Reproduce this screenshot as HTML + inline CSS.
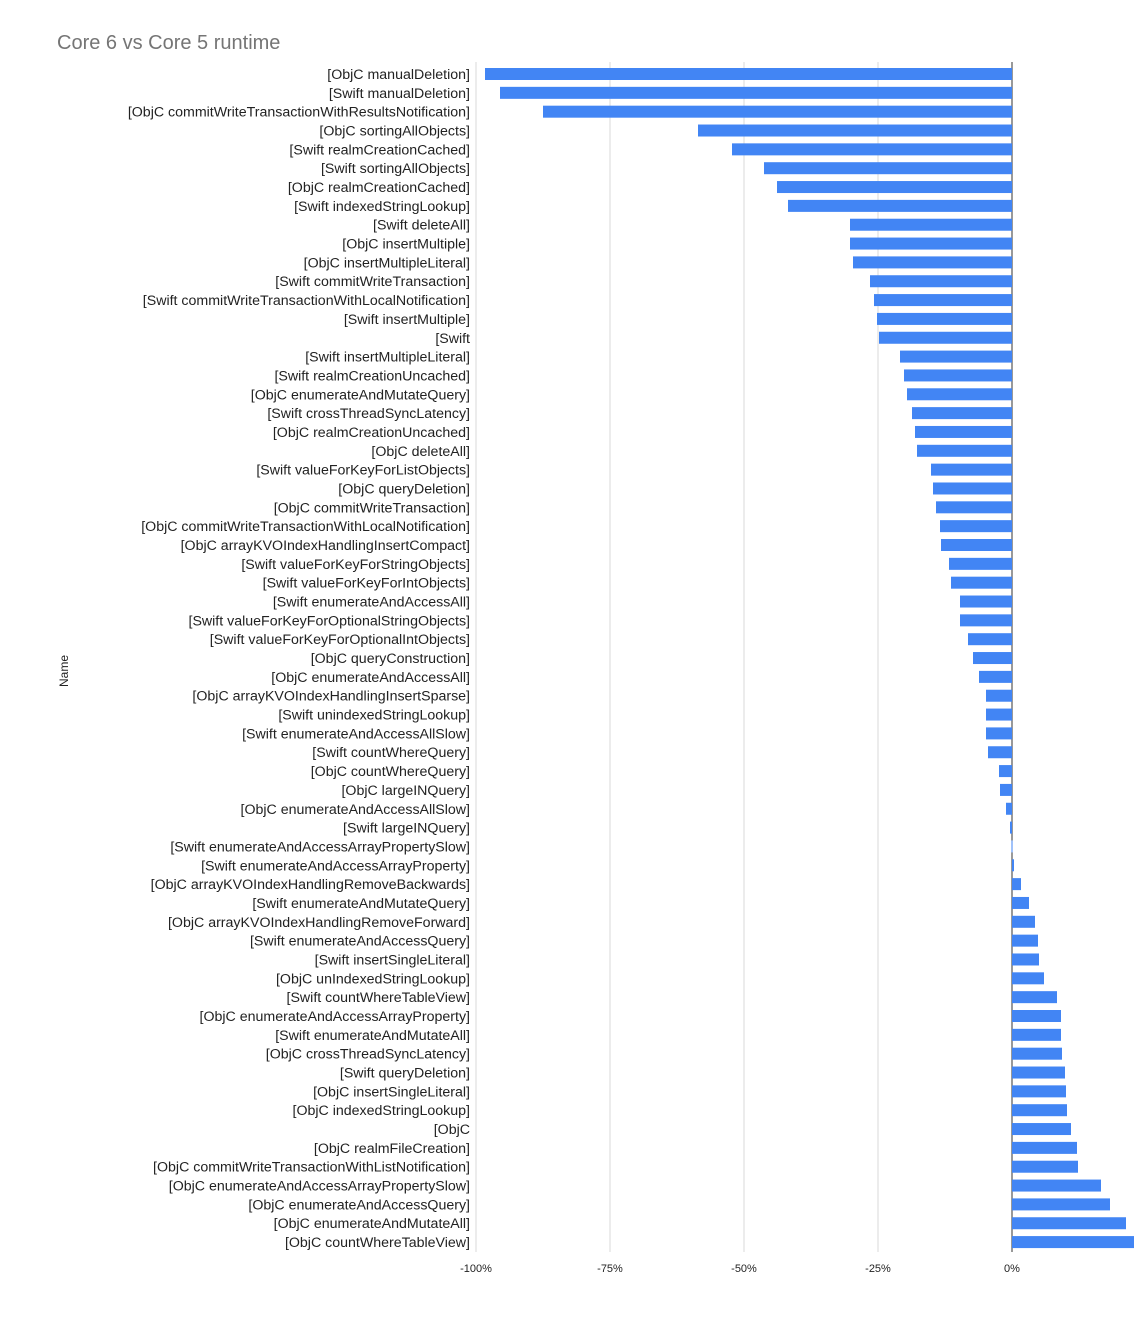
<!DOCTYPE html>
<html><head><meta charset="utf-8"><style>
html,body{margin:0;padding:0;background:#fff;}
svg{display:block;font-family:"Liberation Sans",Arial,sans-serif;}
</style></head><body>
<svg id="c" width="1147" height="1339" xmlns="http://www.w3.org/2000/svg">
<rect width="1147" height="1339" fill="#fff"/>
<text x="57" y="49" font-size="20" fill="#757575">Core 6 vs Core 5 runtime</text>
<text transform="translate(68,671) rotate(-90)" font-size="12" fill="#222" text-anchor="middle">Name</text>
<g id="grid"></g><g id="bars"></g><g id="labels"></g>
</svg>
<script>
var names=["[ObjC manualDeletion]","[Swift manualDeletion]","[ObjC commitWriteTransactionWithResultsNotification]","[ObjC sortingAllObjects]","[Swift realmCreationCached]","[Swift sortingAllObjects]","[ObjC realmCreationCached]","[Swift indexedStringLookup]","[Swift deleteAll]","[ObjC insertMultiple]","[ObjC insertMultipleLiteral]","[Swift commitWriteTransaction]","[Swift commitWriteTransactionWithLocalNotification]","[Swift insertMultiple]","[Swift","[Swift insertMultipleLiteral]","[Swift realmCreationUncached]","[ObjC enumerateAndMutateQuery]","[Swift crossThreadSyncLatency]","[ObjC realmCreationUncached]","[ObjC deleteAll]","[Swift valueForKeyForListObjects]","[ObjC queryDeletion]","[ObjC commitWriteTransaction]","[ObjC commitWriteTransactionWithLocalNotification]","[ObjC arrayKVOIndexHandlingInsertCompact]","[Swift valueForKeyForStringObjects]","[Swift valueForKeyForIntObjects]","[Swift enumerateAndAccessAll]","[Swift valueForKeyForOptionalStringObjects]","[Swift valueForKeyForOptionalIntObjects]","[ObjC queryConstruction]","[ObjC enumerateAndAccessAll]","[ObjC arrayKVOIndexHandlingInsertSparse]","[Swift unindexedStringLookup]","[Swift enumerateAndAccessAllSlow]","[Swift countWhereQuery]","[ObjC countWhereQuery]","[ObjC largeINQuery]","[ObjC enumerateAndAccessAllSlow]","[Swift largeINQuery]","[Swift enumerateAndAccessArrayPropertySlow]","[Swift enumerateAndAccessArrayProperty]","[ObjC arrayKVOIndexHandlingRemoveBackwards]","[Swift enumerateAndMutateQuery]","[ObjC arrayKVOIndexHandlingRemoveForward]","[Swift enumerateAndAccessQuery]","[Swift insertSingleLiteral]","[ObjC unIndexedStringLookup]","[Swift countWhereTableView]","[ObjC enumerateAndAccessArrayProperty]","[Swift enumerateAndMutateAll]","[ObjC crossThreadSyncLatency]","[Swift queryDeletion]","[ObjC insertSingleLiteral]","[ObjC indexedStringLookup]","[ObjC","[ObjC realmFileCreation]","[ObjC commitWriteTransactionWithListNotification]","[ObjC enumerateAndAccessArrayPropertySlow]","[ObjC enumerateAndAccessQuery]","[ObjC enumerateAndMutateAll]","[ObjC countWhereTableView]"];
var ends=[485,500,543,698,732,764,777,788,850,850,853,870,874,877,879,900,904,907,912,915,917,931,933,936,940,941,949,951,960,960,968,973,979,986,986,986,988,999,1000,1006,1010,1011.5,1014,1021,1029,1035,1038,1039,1044,1057,1061,1061,1062,1065,1066,1067,1071,1077,1078,1101,1110,1126,1134];
var ns="http://www.w3.org/2000/svg",Z=1012;
function el(t,a,p,txt){var e=document.createElementNS(ns,t);for(var k in a)e.setAttribute(k,a[k]);if(txt)e.textContent=txt;document.getElementById(p).appendChild(e);}
var ticks=[[476,"-100%"],[610,"-75%"],[744,"-50%"],[878,"-25%"],[1012,"0%"]];
ticks.forEach(function(t){el("line",{x1:t[0],x2:t[0],y1:62,y2:1252,stroke:t[1]=="0%"?"#333":"#d9d9d9","stroke-width":1},"grid");
el("text",{x:t[0],y:1272,"font-size":11,fill:"#222","text-anchor":"middle"},"labels",t[1]);});
for(var i=0;i<63;i++){var y=74+i*18.84;var e=ends[i];
var x=Math.min(e,Z),w=Math.abs(e-Z);if(w<1)w=1;
el("rect",{x:x,y:y-6,width:w,height:12,fill:"#4285f4"},"bars");
el("text",{x:470,y:y+5,"font-size":14.2,fill:"#222","text-anchor":"end"},"labels",names[i]);}
</script>
</body></html>
